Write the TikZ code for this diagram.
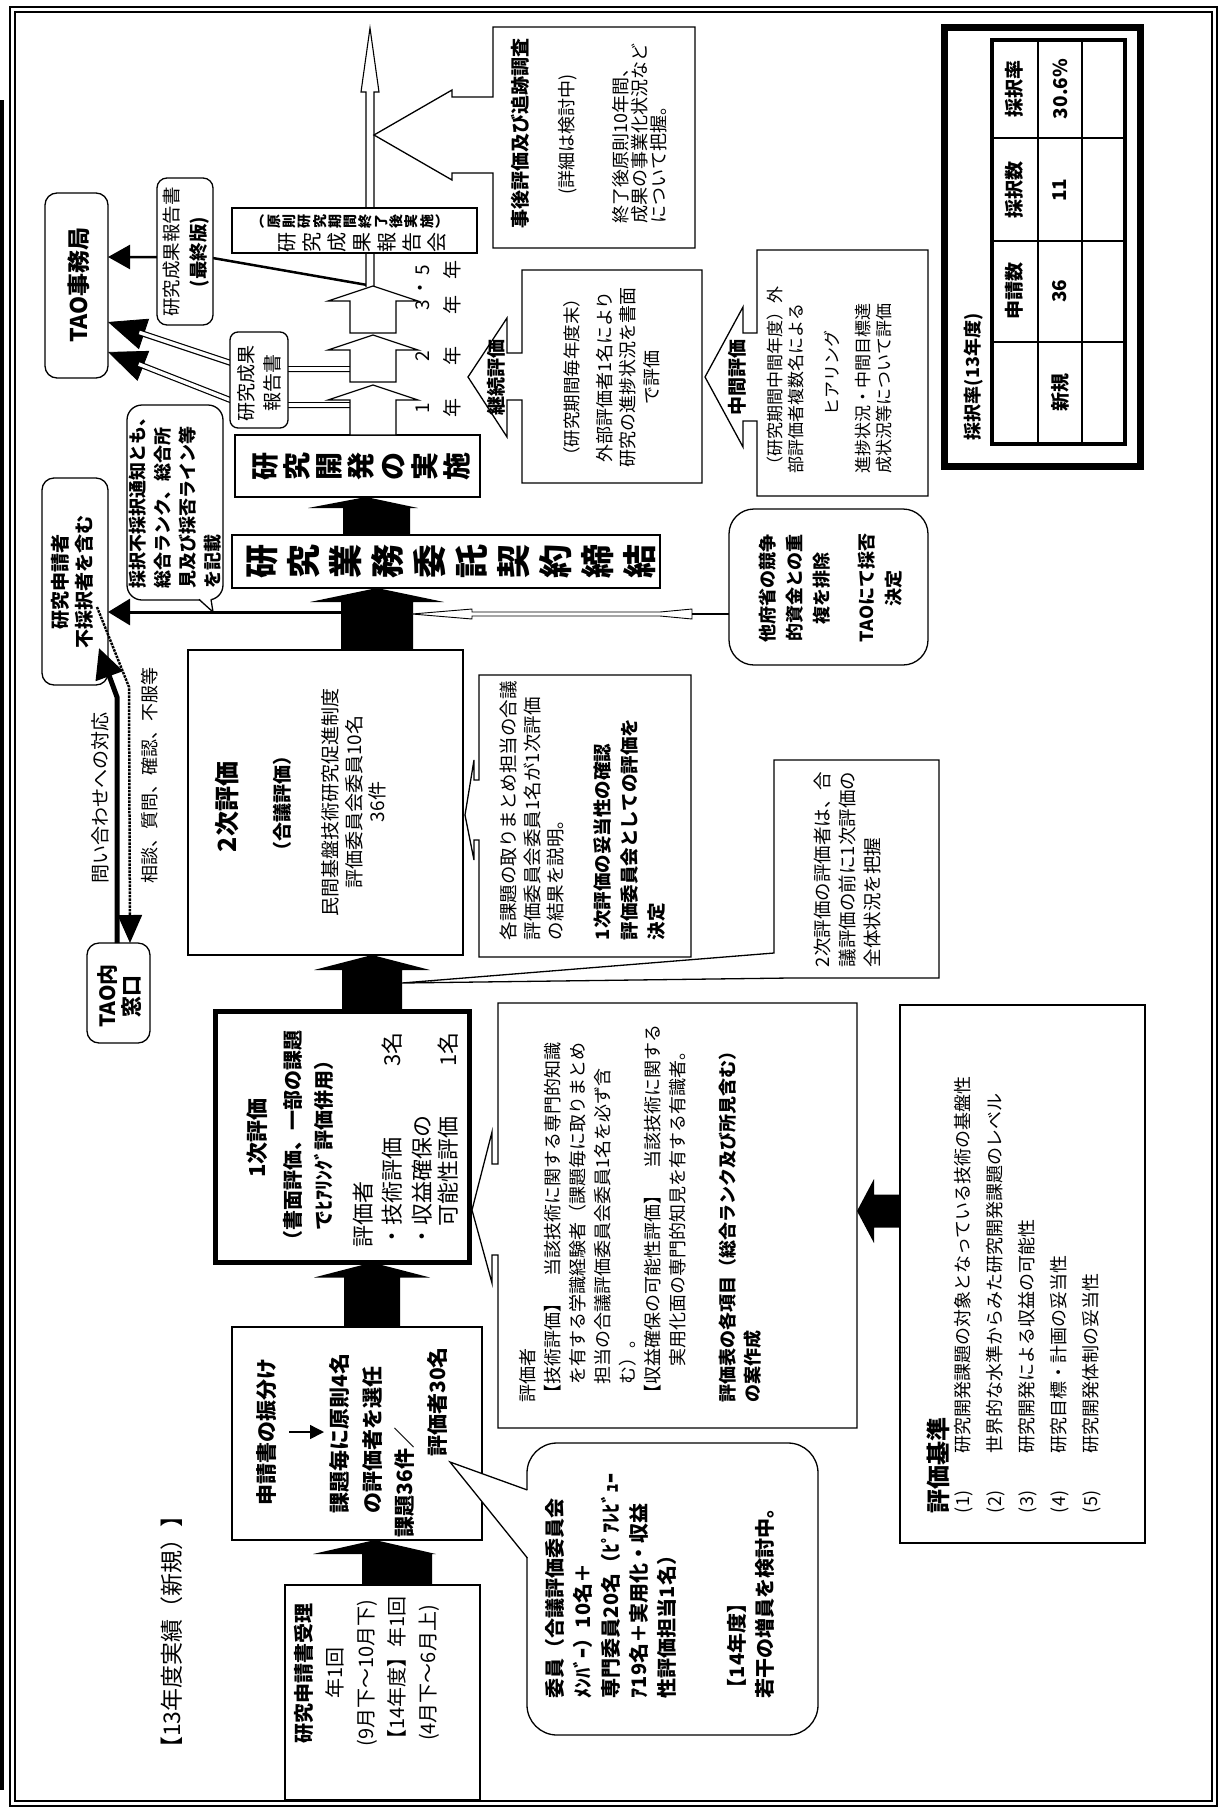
\documentclass[tikz,border=0pt]{standalone}
\usepackage{fontspec}
\setmainfont{Noto Sans CJK JP}
\usetikzlibrary{calc,fit,arrows.meta}
\newcommand\fsz[2]{\fontsize{#1pt}{#2pt}\selectfont}
\newcommand\blkup[7][fill=black]{%
  \path[#1] let \p1=(#2), \p2=(#3) in
    ({#4pt-#7pt},\y1) -- ({#4pt-#7pt},{\y2-#5pt}) -- ({#4pt-#6pt},{\y2-#5pt})
    -- (#4pt,\y2) -- ({#4pt+#6pt},{\y2-#5pt}) -- ({#4pt+#7pt},{\y2-#5pt})
    -- ({#4pt+#7pt},\y1) -- cycle;}
\newcommand\blkleft[7][fill=black]{%
  \path[#1] let \p1=(#2), \p2=(#3) in
    (\x1,{-#4pt+#7pt}) -- ({\x2+#5pt},{-#4pt+#7pt}) -- ({\x2+#5pt},{-#4pt+#6pt})
    -- (\x2,{-#4pt}) -- ({\x2+#5pt},{-#4pt-#6pt}) -- ({\x2+#5pt},{-#4pt-#7pt})
    -- (\x1,{-#4pt-#7pt}) -- cycle;}
\begin{document}
\begin{tikzpicture}[x=1pt,y=-1pt,
  bx/.style={draw, line width=1.3pt, fill=white, inner sep=0pt, outer sep=0pt},
  rbx/.style={bx, rounded corners=12pt},
  tx/.style={rotate=90, inner sep=0pt, outer sep=0pt, align=center},
  co/.style={fill=white, draw=black, line width=1.3pt},
  hol/.style={fill=white, draw=black, line width=1.2pt},
]
\useasboundingbox (0,0) rectangle (1221,1810);
\fill[white] (0,0) rectangle (1221,1810);
% frame
\draw[line width=1.6pt] (10,7) rectangle (1217,1806);
\draw[line width=1.1pt] (15,12) rectangle (1212,1801);
\fill[black] (0,100) rectangle (4,1790);

\node[tx, font=\fsz{23}{28}] (title) at (172,1632) {【13年度実績（新規）】};

% ---------- upper left ----------
\node[rbx, fit={(45,193) (108,378)}] (N) {};
\node[tx, font=\bfseries\fsz{23}{28}] (Nt) at (79,285) {TAO事務局};
\coordinate (k1y) at (0,322);
\coordinate (k2y) at (0,352);
\coordinate (ly) at (0,257);
\coordinate (g1t) at (373,385);
\coordinate (g2b) at (373,382);
\coordinate (g2t) at (373,335);
\coordinate (g3b) at (373,333);
\coordinate (g3t) at (373,286);

% double-line report arrows
\draw[line width=0.8pt, -{Triangle[length=38pt,width=32pt]}] (249,369) -- (N.east |- k1y);
\draw[line width=1.2pt, double=white, double distance=3.6pt, shorten >=33pt] (350,369) -- (249,369) -- (N.east |- k1y);
\draw[line width=0.8pt, -{Triangle[length=38pt,width=32pt]}] (243,405) -- (N.east |- k2y);
\draw[line width=1.2pt, double=white, double distance=3.6pt, shorten >=33pt] (350,405) -- (243,405) -- (N.east |- k2y);
% final report line
\draw[line width=2.5pt, -{Triangle[length=22pt,width=24pt]}] (g3t) -- (207,257) -- (N.east |- ly);

% thin hollow arrow up
\path[fill=white] (366,287) -- (366,92) -- (361,92) -- (370,28) -- (379,92) -- (374,92) -- (374,287) -- cycle;
\draw[line width=1.1pt] (366,287) -- (366,92) -- (361,92) -- (370,28) -- (379,92) -- (374,92) -- (374,287);
\coordinate (hshaft) at (374,135);

% 事後評価 callout
\path[co] (493,27) -- (695,27) -- (695,248) -- (493,248) -- (493,173) -- (452,173) -- (452,180) -- (hshaft) -- (452,90) -- (452,97) -- (493,97) -- cycle;
\node[tx, font=\bfseries\fsz{19}{24}] (O1) at (520,133) {事後評価及び追跡調査};
\node[tx, font=\fsz{18}{22}] (O2) at (568,134) {(詳細は検討中)};
\node[tx, font=\fsz{18}{19}, align=left, anchor=north west] (O3) at (612,223) {終了後原則10年間、\\成果の事業化状況など\\について把握。};

% 継続評価 callout
\path[co] (522,270) -- (702,270) -- (702,483) -- (522,483) -- (522,400) -- (507,400) -- (507,437) -- (468,377) -- (507,318) -- (507,353) -- (522,353) -- cycle;
\node[tx, font=\bfseries\fsz{19}{24}] (P0) at (496,377) {継続評価};
\node[tx, font=\fsz{17.5}{23}] (P1) at (572,377) {（研究期間毎年度末）};
\node[tx, font=\fsz{18}{23.5}] (P2) at (628,377) {外部評価者1名により\\研究の進捗状況を書面\\で評価};

% 中間評価 callout
\path[co] (757,250) -- (928,250) -- (928,496) -- (757,496) -- (757,421) -- (743,421) -- (743,447) -- (705,377) -- (743,307) -- (743,333) -- (757,333) -- cycle;
\node[tx, font=\bfseries\fsz{19}{24}] (Q0) at (737,377) {中間評価};
\node[tx, font=\fsz{17}{21}, align=left, anchor=north west] (Q1) at (767,473) {（研究期間中間年度）外\\部評価者複数名による};
\node[tx, font=\fsz{17}{21}] (Q2) at (832,373) {ヒアリング};
\node[tx, font=\fsz{17}{21}, align=left, anchor=north west] (Q3) at (855,473) {進捗状況・中間目標達\\成状況等について評価};

% research boxes
\node[bx, line width=1.5pt, fit={(232,535) (660,588)}] (E) {};
\node[tx, font=\bfseries\fsz{34}{42}] (Et) at (451,561) {研\\究\\業\\務\\委\\託\\契\\約\\締\\結};
\node[bx, line width=1.5pt, fit={(235,435) (480,497)}] (F) {};
\node[tx, font=\bfseries\fsz{28}{32}] (Ft) at (361,466) {研\\究\\開\\発\\の\\実\\施};

% hollow yearly arrows
\blkup[hol]{F.north}{g1t}{373}{15}{45}{23}
\blkup[hol]{g2b}{g2t}{373}{15}{45}{23}
\blkup[hol]{g3b}{g3t}{373}{15}{45}{23}

% 研究成果報告会
\node[bx, line width=1.4pt, fit={(232,208) (477,253)}] (I) {};
\node[tx, font=\bfseries\fsz{14}{15.3}] (I1) at (354,221) {︵\\原\\則\\研\\究\\期\\間\\終\\了\\後\\実\\施\\︶};
\node[tx, font=\fsz{20}{25}] (I2) at (362,242) {研\\究\\成\\果\\報\\告\\会};

\node[rbx, rounded corners=8pt, fit={(230,332) (288,428)}] (J) {};
\node[tx, font=\fsz{19}{26}] (Jt) at (259,383) {研究成果\\報告書};
\node[rbx, rounded corners=10pt, fit={(157,178) (213,325)}] (M) {};
\node[tx, font=\fsz{18.5}{27}] (Mt) at (186,252) {研究成果報告書\\\textbf{(最終版)}};

% year labels
\node[tx, font=\fsz{19}{19}] (y1a) at (423,408) {1};
\node[tx, font=\fsz{19}{19}] (y1b) at (452,408) {年};
\node[tx, font=\fsz{19}{19}] (y2a) at (423,356) {2};
\node[tx, font=\fsz{19}{19}] (y2b) at (452,356) {年};
\node[tx, font=\fsz{19}{19}] (y3a) at (423,305) {3};
\node[tx, font=\fsz{19}{19}] (y3d) at (423,288) {・};
\node[tx, font=\fsz{19}{19}] (y3c) at (423,270) {5};
\node[tx, font=\fsz{19}{19}] (y3b) at (452,305) {年};
\node[tx, font=\fsz{19}{19}] (y3e) at (452,270) {年};

% ---------- left column ----------
\node[rbx, fit={(42,478) (108,685)}] (U) {};
\node[tx, font=\bfseries\fsz{19}{24}] (Ut) at (72,582) {研究申請者\\不採択者を含む};
\node[rbx, rounded corners=15pt, fit={(127,405) (223,600)}] (V) {};
\fill[white] (199,598) -- (213,612) -- (211,598) -- cycle;
\draw[line width=1.3pt] (199,599.4) -- (213,612) -- (211,599.4);
\node[tx, font=\bfseries\fsz{18}{25}, align=left, anchor=north west] (Vt) at (129,588) {採択不採択通知とも、\\総合ランク、総合所\\見及び採否ライン等\\を記載};

\node[rbx, fit={(87,943) (150,1043)}] (W) {};
\node[tx, font=\bfseries\fsz{21}{24}] (Wt) at (119,996) {TAO内\\窓口};
\draw[line width=5pt, -{Triangle[length=30pt,width=28pt]}] ($(W.north west)+(30,0)$) -- (117,697) -- (99,648);
\draw[line width=2.5pt, densely dotted, -{Triangle[length=28pt,width=24pt]}] (97,607) -- (129,687) -- ($(W.north west)+(43,0)$);
\node[tx, font=\fsz{19}{24}] (X1l) at (100,798) {問い合わせへの対応};
\node[tx, font=\fsz{18}{24}] (X2l) at (150,775) {相談、質問、確認、不服等};

% ---------- main column ----------
\node[bx, fit={(285,1585) (480,1800)}] (A) {};
\node[tx, font=\fsz{20}{31}] (At) at (367,1673) {\textbf{研究申請書受理}\\年1回\\(9月下～10月下)\\【14年度】年1回\\(4月下～6月上)};

\node[bx, fit={(232,1327) (482,1540)}] (B) {};
\node[tx, font=\bfseries\fsz{21}{26}] (B1) at (267,1432) {申請書の振分け};
\draw[line width=1.5pt, -{Triangle[length=14pt,width=14pt]}] (289,1432) -- (324,1432);
\node[tx, font=\bfseries\fsz{21}{26}, anchor=west] (B2) at (340,1513) {課題毎に原則4名};
\node[tx, font=\bfseries\fsz{21}{26}, anchor=west] (B3) at (373,1513) {の評価者を選任};
\node[tx, font=\bfseries\fsz{21}{26}, anchor=west] (B4) at (405,1537) {課題36件／};
\node[tx, font=\bfseries\fsz{21}{26}, anchor=east] (B5) at (437,1347) {評価者30名};

\node[bx, line width=5pt, fit={(215.5,1011.5) (469.5,1262.5)}] (C) {};
\node[tx, font=\bfseries\fsz{22}{26}] (C1) at (257,1138) {1次評価};
\node[tx, font=\bfseries\fsz{20}{31}] (C2) at (308,1140) {（書面評価、一部の課題\\でﾋｱﾘﾝｸﾞ評価併用）};
\node[tx, font=\fsz{22}{28}, anchor=west] (C3) at (363,1247) {評価者};
\node[tx, font=\fsz{22}{28}, anchor=west] (C4) at (392,1247) {・技術評価};
\node[tx, font=\fsz{22}{28}, anchor=east] (C5) at (392,1032) {3名};
\node[tx, font=\fsz{22}{28}, anchor=west] (C6) at (422,1247) {・収益確保の};
\node[tx, font=\fsz{22}{28}, anchor=west] (C7) at (448,1226) {可能性評価};
\node[tx, font=\fsz{22}{28}, anchor=east] (C8) at (448,1032) {1名};

\node[bx, fit={(188,650) (463,955)}] (D) {};
\node[tx, font=\bfseries\fsz{25}{30}] (D1) at (227,807) {2次評価};
\node[tx, font=\bfseries\fsz{19}{24}] (D2) at (282,803) {（合議評価）};
\node[tx, font=\fsz{19}{23.5}] (D3) at (354,802) {民間基盤技術研究促進制度\\評価委員会委員10名\\36件};

% block arrows of the main flow
\fill let \p1=(A.north), \p2=(B.south) in (362pt,\y1) -- (362pt,{\y2-14pt}) -- (313pt,{\y2-14pt}) -- (375pt,\y2) -- (436pt,{\y2-14pt}) -- (432pt,{\y2-14pt}) -- (432pt,\y1) -- cycle;
\blkup{B.north}{C.south}{372}{15}{58}{28}
\blkup{C.north}{D.south}{372}{15}{58}{30}
\blkup{D.north}{E.south}{377}{14}{67}{36}
\fill let \p1=(E.north), \p2=(F.south) in (343pt,\y1) -- (343pt,{\y2-11pt}) -- (308pt,{\y2-11pt}) -- (366pt,\y2) -- (418pt,{\y2-11pt}) -- (410pt,{\y2-11pt}) -- (410pt,\y1) -- cycle;

% rejection notice line
\coordinate (ty) at (0,612);
\draw[line width=3pt, -{Triangle[length=22pt,width=26pt]}] (341,612) -- (U.east |- ty);

% other-ministry box and thin hollow arrow
\node[rbx, rounded corners=25pt, fit={(729,509) (928,665)}] (R) {};
\node[tx, font=\bfseries\fsz{18}{27}] (R1) at (795,588) {他府省の競争\\的資金との重\\複を排除};
\node[tx, font=\bfseries\fsz{18}{27}] (R2) at (880,588) {TAOにて採否\\決定};
\coordinate (sy) at (0,614);
\path[hol, line width=0.9pt] (412,614) -- (472,609) -- (472,612) -- (660,612) -- (692,609) -- (692,619) -- (660,616) -- (472,616) -- (472,619) -- cycle;
\draw[line width=1.1pt] (692,614) -- (R.west |- sy);

% 2次評価 right callout
\path[co] (479,675) -- (691,675) -- (691,957) -- (479,957) -- (479,840) -- (474,840) -- (474,860) -- (465,815) -- (474,760) -- (474,780) -- (479,780) -- cycle;
\node[tx, font=\fsz{18.5}{23.5}, align=left, anchor=north west] (Y1) at (500,940) {各課題の取りまとめ担当の合議\\評価委員会委員1名が1次評価\\の結果を説明。};
\node[tx, font=\bfseries\fsz{18.5}{27}, align=left, anchor=north west] (Y2) at (594,940) {1次評価の妥当性の確認\\評価委員会としての評価を\\決定};

% 2次評価者 callout
\path[co] (774,760) -- (939,760) -- (939,978) -- (790,978) -- (402,983) -- (774,953) -- cycle;
\node[tx, font=\fsz{18.5}{25}, align=left, anchor=north west] (Zt) at (814,967) {2次評価の評価者は、合\\議評価の前に1次評価の\\全体状況を把握};

% 評価者 callout
\path[co] (498,1003) -- (857,1003) -- (857,1428) -- (498,1428) -- (498,1255) -- (492,1255) -- (492,1283) -- (472,1210) -- (492,1132) -- (492,1164) -- (498,1164) -- cycle;
\coordinate (AAe) at (857,1211);
\node[tx, font=\fsz{18}{25}, align=left, anchor=north west] (AAt) at (519,1402) {評価者\\【技術評価】　当該技術に関する専門的知識\\　を有する学識経験者（課題毎に取りまとめ\\　担当の合議評価委員会委員1名を必ず含\\　む）。\\【収益確保の可能性評価】　当該技術に関する\\　　実用化面の専門的知見を有する有識者。\\[25pt]\textbf{評価表の各項目（総合ランク及び所見含む）}\\\textbf{の案作成}};

% 評価基準
\node[bx, fit={(900,1005) (1145,1543)}] (AC) {};
\node[tx, font=\bfseries\fsz{24}{28}, anchor=west] (AC0) at (938,1513) {評価基準};
\node[tx, font=\fsz{18}{32}, align=left, anchor=north west] (AC1) at (954,1513) {(1)\hspace{2.1em}研究開発課題の対象となっている技術の基盤性\\(2)\hspace{2.1em}世界的な水準からみた研究開発課題のレベル\\(3)\hspace{2.1em}研究開発による収益の可能性\\(4)\hspace{2.1em}研究目標・計画の妥当性\\(5)\hspace{2.1em}研究開発体制の妥当性};
\blkleft{AC.west}{AAe}{1211}{17}{32}{16.5}

% 委員 balloon
\node[rbx, rounded corners=30pt, fit={(527,1443) (818,1735)}] (BB) {};
\fill[white] (528,1490) -- (450,1462) -- (528,1558) -- cycle;
\draw[line width=1.3pt] (527.4,1490) -- (450,1462) -- (527.4,1558);
\node[tx, font=\bfseries\fsz{20}{28}, align=left, anchor=north west] (BBt) at (545,1698) {委員（合議評価委員会\\ﾒﾝﾊﾞｰ）10名＋\\専門委員20名（ﾋﾟｱﾚﾋﾞｭｰ\\ｱ19名＋実用化・収益\\性評価担当1名）\\[42pt]【14年度】\\若干の増員を検討中。};

% ---------- table ----------
\draw[line width=7pt] (944,27) rectangle (1140,466);
\draw[line width=4pt] (992,40) rectangle (1125,444);
\draw[line width=2.5pt] (1038,40) -- (1038,444) (1082,40) -- (1082,444)
  (992,138) -- (1125,138) (992,241) -- (1125,241) (992,342) -- (1125,342);
\node[tx, font=\bfseries\fsz{18}{22}, anchor=west] (ADt) at (974,440) {採択率(13年度)};
\node[tx, font=\bfseries\fsz{19}{22}] (c11) at (1014,291) {申請数};
\node[tx, font=\bfseries\fsz{19}{22}] (c12) at (1014,190) {採択数};
\node[tx, font=\bfseries\fsz{19}{22}] (c13) at (1014,89) {採択率};
\node[tx, font=\bfseries\fsz{19}{22}] (c20) at (1060,392) {新規};
\node[tx, font=\bfseries\fsz{19}{22}] (c21) at (1060,291) {36};
\node[tx, font=\bfseries\fsz{19}{22}] (c22) at (1060,190) {11};
\node[tx, font=\bfseries\fsz{19}{22}] (c23) at (1060,89) {30.6\%};
\end{tikzpicture}
\end{document}
